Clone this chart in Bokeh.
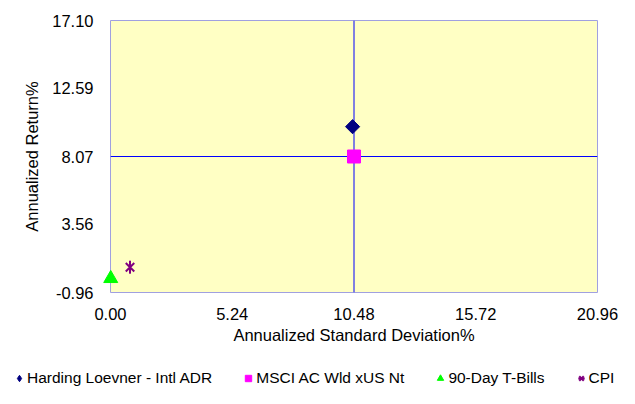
import numpy as np
from bokeh.plotting import figure
from bokeh.layouts import column
from bokeh.models import Span, Legend, LegendItem, FixedTicker, NumeralTickFormatter, Range1d
from bokeh.embed import file_html
from bokeh.resources import INLINE

series_names = ["Harding Loevner - Intl ADR", "MSCI AC Wld xUS Nt", "90-Day T-Bills", "CPI"]
std_dev = [10.42, 10.48, 0.01, 0.84]
ann_return = [10.05, 8.07, -0.03, 0.72]
x_ticks = [0.00, 5.24, 10.48, 15.72, 20.96]
y_ticks = [-0.96, 3.56, 8.07, 12.59, 17.10]

FONT = "Liberation Sans"
colors = ["#000080", "#FF00FF", "#00FF00", "#800080"]

p = figure(width=619, height=350, output_backend="svg", toolbar_location=None,
           x_range=Range1d(x_ticks[0], x_ticks[-1]), y_range=Range1d(y_ticks[0], y_ticks[-1]),
           min_border_left=110, min_border_right=22, min_border_top=20, min_border_bottom=58)
p.frame_align = False

p.background_fill_color = "#FFFFC4"
p.border_fill_color = "white"
p.outline_line_color = "#A0A0E0"
p.outline_line_width = 1
p.xgrid.visible = False
p.ygrid.visible = False

# crosshair at the benchmark
p.add_layout(Span(location=std_dev[1], dimension="height", line_color="#0000FF", line_width=1))
p.add_layout(Span(location=ann_return[1], dimension="width", line_color="#0000FF", line_width=1))


def draw_markers(fig, xs, ys, first_marker="square", first_angle=np.pi / 4):
    r1 = fig.scatter(x=[xs[0]], y=[ys[0]], marker=first_marker, angle=first_angle,
                     size=10, fill_color=colors[0], line_color=colors[0], level="overlay")
    r2 = fig.scatter(x=[xs[1]], y=[ys[1]], marker="square",
                     size=13, fill_color=colors[1], line_color=colors[1], level="overlay")
    r3 = fig.scatter(x=[xs[2]], y=[ys[2]], marker="triangle",
                     size=14, fill_color=colors[2], line_color=colors[2], level="overlay")
    r4a = fig.scatter(x=[xs[3]], y=[ys[3]], marker="x",
                      size=12, line_color=colors[3], line_width=2, level="overlay")
    r4b = fig.scatter(x=[xs[3]], y=[ys[3]], marker="dash", angle=np.pi / 2,
                      size=13, line_color=colors[3], line_width=2, level="overlay")
    return [[r1], [r2], [r3], [r4a, r4b]]


draw_markers(p, std_dev, ann_return)

for ax, ticks in ((p.xaxis[0], x_ticks), (p.yaxis[0], y_ticks)):
    ax.ticker = FixedTicker(ticks=ticks)
    ax.formatter = NumeralTickFormatter(format="0.00")
    ax.axis_line_color = None
    ax.major_tick_line_color = None
    ax.minor_tick_line_color = None
    ax.major_label_text_font = FONT
    ax.major_label_text_font_size = "16.5px"
    ax.major_label_text_color = "black"
    ax.axis_label_text_font = FONT
    ax.axis_label_text_font_size = "16.5px"
    ax.axis_label_text_font_style = "normal"
    ax.axis_label_text_color = "black"

p.xaxis.axis_label = "Annualized Standard Deviation%"
p.yaxis.axis_label = "Annualized Return%"
p.xaxis.major_label_standoff = 9
p.xaxis.axis_label_standoff = 3
p.yaxis.major_label_standoff = 11
p.yaxis.axis_label_standoff = 8

# legend strip below the chart (its own frame, so the legend is not clipped)
pl = figure(width=619, height=38, output_backend="svg", toolbar_location=None,
            x_range=Range1d(-1000, -999), y_range=Range1d(-1000, -999), min_border=0)
pl.frame_align = False
pl.axis.visible = False
pl.grid.visible = False
pl.outline_line_color = None
pl.background_fill_color = "white"
pl.border_fill_color = "white"
legend_renderers = draw_markers(pl, std_dev, ann_return, first_marker="diamond", first_angle=0)

legend = Legend(items=[LegendItem(label=n, renderers=r) for n, r in zip(series_names, legend_renderers)],
                orientation="horizontal", location=(11, 1),
                glyph_width=16, glyph_height=16, label_height=18, label_standoff=0, spacing=28,
                padding=0, margin=0, border_line_color=None, background_fill_alpha=0,
                label_text_font=FONT, label_text_font_size="15.5px", label_text_color="black")
pl.add_layout(legend)

layout = column(p, pl, spacing=0)
open("out.html", "w").write(file_html(layout, INLINE))
